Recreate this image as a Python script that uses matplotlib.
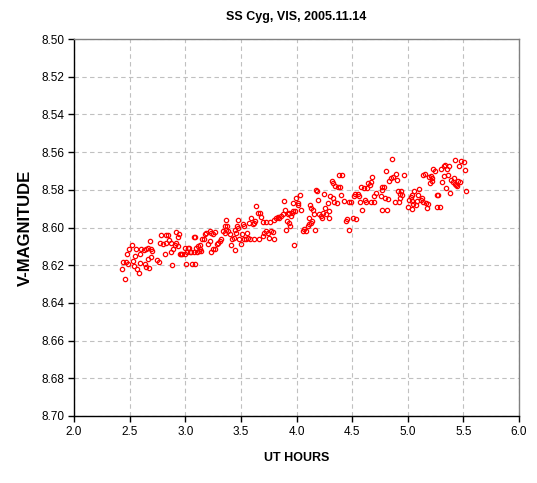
import matplotlib
matplotlib.use("Agg")
import matplotlib.pyplot as plt
import numpy as np

title = "SS Cyg, VIS, 2005.11.14"
xlabel = "UT HOURS"
ylabel = "V-MAGNITUDE"
xticks = [2.0, 2.5, 3.0, 3.5, 4.0, 4.5, 5.0, 5.5, 6.0]
yticks = [8.50, 8.52, 8.54, 8.56, 8.58, 8.60, 8.62, 8.64, 8.66, 8.68, 8.70]

ut_a = [2.457, 2.433, 2.442, 2.463, 2.481, 2.517, 2.496, 2.478, 2.547, 2.532,
        2.556, 2.538, 2.562, 2.583, 2.606, 2.630, 2.651, 2.597, 2.591, 2.636,
        2.651, 2.675, 2.681, 2.666, 2.690, 2.705, 2.696, 2.666, 2.750, 2.762,
        2.780, 2.824, 2.845, 2.771, 2.801, 2.830, 2.854, 2.869, 2.815, 2.875,
        2.890, 2.905, 2.920, 2.944, 2.935, 2.920, 2.935, 2.884, 2.950, 2.974,
        2.995, 3.016, 3.033, 3.054, 3.075, 3.010, 3.063, 3.075, 2.995, 2.965,
        3.025, 3.040, 3.108]
mag_a = [8.6275, 8.6222, 8.6183, 8.6183, 8.6192, 8.6094, 8.6116, 8.6139, 8.6152, 8.6178,
         8.6116, 8.6205, 8.6222, 8.6243, 8.6116, 8.6120, 8.6116, 8.6139, 8.6187, 8.6196,
         8.6210, 8.6213, 8.6072, 8.6108, 8.6116, 8.6125, 8.6155, 8.6166, 8.6173, 8.6183,
         8.6042, 8.6041, 8.6042, 8.6081, 8.6090, 8.6081, 8.6067, 8.6081, 8.6139, 8.6129,
         8.6116, 8.6094, 8.6025, 8.6037, 8.6051, 8.6081, 8.6099, 8.6201, 8.6138, 8.6138,
         8.6138, 8.6129, 8.6108, 8.6129, 8.6129, 8.6196, 8.6196, 8.6051, 8.6108, 8.6139,
         8.6107, 8.6129, 8.6129]

ut_b = [3.090, 3.090, 3.099, 3.114, 3.129, 3.144, 3.120, 3.150, 3.165, 3.174,
        3.189, 3.219, 3.234, 3.249, 3.263, 3.219, 3.204, 3.228, 3.248, 3.269,
        3.287, 3.308, 3.323, 3.293, 3.338, 3.353, 3.368, 3.383, 3.359, 3.362,
        3.398, 3.407, 3.419, 3.437, 3.443, 3.443, 3.458, 3.467, 3.478, 3.473,
        3.502, 3.511, 3.517, 3.532, 3.547, 3.562, 3.553, 3.577, 3.592, 3.607,
        3.622, 3.631, 3.586, 3.616, 3.637, 3.658, 3.676, 3.682, 3.667, 3.697,
        3.712, 3.726, 3.741, 3.771, 3.786, 3.756, 3.795, 3.697, 3.726, 3.765,
        3.801, 3.816, 3.831, 3.846, 3.487, 3.526, 3.135, 3.374]
mag_b = [8.6196, 8.6049, 8.6108, 8.6099, 8.6116, 8.6125, 8.6125, 8.6063, 8.6063, 8.6033,
         8.6028, 8.6019, 8.6028, 8.6037, 8.6025, 8.6072, 8.6090, 8.6129, 8.6116, 8.6116,
         8.6090, 8.6072, 8.6063, 8.6081, 8.6019, 8.6028, 8.6011, 8.6019, 8.5993, 8.5961,
         8.6037, 8.6095, 8.6063, 8.6055, 8.6120, 8.6011, 8.6028, 8.5993, 8.5961, 8.6002,
         8.6090, 8.6037, 8.5984, 8.5993, 8.6063, 8.6055, 8.6028, 8.5975, 8.5949, 8.5984,
         8.5975, 8.5966, 8.6063, 8.6063, 8.5884, 8.5922, 8.5922, 8.5944, 8.6063, 8.6046,
         8.6028, 8.6019, 8.6028, 8.6019, 8.6025, 8.6055, 8.6063, 8.5972, 8.5972, 8.5972,
         8.5961, 8.5949, 8.5944, 8.5949, 8.6063, 8.6063, 8.6093, 8.5993]

ut_c = [3.891, 3.861, 3.876, 3.900, 3.921, 3.936, 3.950, 3.959, 3.971, 3.989,
        3.912, 3.930, 3.941, 3.906, 3.980, 3.995, 4.010, 4.031, 4.040, 4.016,
        3.971, 4.055, 4.070, 4.085, 4.100, 4.115, 4.130, 4.139, 4.109, 4.121,
        4.130, 4.145, 4.160, 4.168, 4.174, 4.186, 4.195, 4.204, 4.219, 4.228,
        4.240, 4.249, 4.258, 4.264, 4.279, 4.288, 4.294, 4.300, 4.324, 4.339,
        4.360, 4.318, 4.330, 4.348, 4.369, 4.378, 4.407, 4.398, 4.389, 4.428,
        4.443, 4.452, 4.473, 4.488, 4.473, 4.509, 4.518, 4.527, 4.539, 4.551,
        4.563, 4.572, 4.587, 4.584, 4.608, 4.617, 4.628, 4.637, 4.646]
mag_c = [8.5857, 8.5940, 8.5931, 8.5905, 8.5931, 8.5922, 8.5940, 8.5922, 8.5913, 8.5913,
         8.5966, 8.5975, 8.5993, 8.6014, 8.6095, 8.5843, 8.5869, 8.5825, 8.5905, 8.5878,
         8.5869, 8.6019, 8.6010, 8.6019, 8.5993, 8.5984, 8.5975, 8.5966, 8.5949, 8.5883,
         8.5896, 8.5905, 8.5931, 8.6014, 8.5802, 8.5804, 8.5855, 8.5931, 8.5940, 8.5949,
         8.5922, 8.5822, 8.5896, 8.5931, 8.5869, 8.5913, 8.5949, 8.5834, 8.5843, 8.5866,
         8.5869, 8.5755, 8.5763, 8.5781, 8.5786, 8.5719, 8.5719, 8.5825, 8.5785, 8.5860,
         8.5966, 8.5957, 8.5866, 8.5866, 8.6014, 8.5949, 8.5834, 8.5822, 8.5957, 8.5822,
         8.5834, 8.5866, 8.5905, 8.5786, 8.5790, 8.5852, 8.5866, 8.5790, 8.5763]

ut_d = [4.855, 4.682, 4.667, 4.661, 4.712, 4.697, 4.772, 4.787, 4.766, 4.757,
        4.796, 4.667, 4.697, 4.766, 4.811, 4.802, 4.832, 4.847, 4.867, 4.891,
        4.906, 4.826, 4.885, 4.915, 4.927, 4.936, 4.951, 4.927, 4.921, 4.966,
        5.011, 5.026, 5.035, 5.041, 5.047, 5.056, 5.071, 5.085, 5.094, 5.100,
        5.115, 5.130, 5.139, 5.160, 5.175, 5.184, 5.005, 5.035, 5.136, 5.154,
        5.190, 5.205, 5.196, 5.214, 5.220, 5.226, 5.244, 5.265, 5.274, 5.303,
        5.324, 5.339, 5.354, 5.369, 5.324, 5.363, 5.265, 5.286, 5.309, 5.345,
        5.384, 5.393, 5.414, 5.405, 5.423, 5.435, 5.453, 5.474, 5.444, 5.429,
        5.465, 5.483, 5.504, 5.513, 5.525]
mag_d = [8.5635, 8.5734, 8.5759, 8.5776, 8.5817, 8.5834, 8.5787, 8.5787, 8.5799, 8.5834,
         8.5843, 8.5866, 8.5866, 8.5905, 8.5905, 8.5702, 8.5755, 8.5737, 8.5734, 8.5716,
         8.5746, 8.5847, 8.5866, 8.5808, 8.5822, 8.5804, 8.5826, 8.5843, 8.5866, 8.5723,
         8.5852, 8.5840, 8.5861, 8.5829, 8.5875, 8.5804, 8.5882, 8.5857, 8.5826, 8.5794,
         8.5852, 8.5843, 8.5864, 8.5870, 8.5896, 8.5875, 8.5893, 8.5901, 8.5723, 8.5716,
         8.5734, 8.5729, 8.5764, 8.5751, 8.5737, 8.5688, 8.5702, 8.5826, 8.5826, 8.5688,
         8.5676, 8.5667, 8.5688, 8.5676, 8.5729, 8.5720, 8.5893, 8.5893, 8.5759, 8.5790,
         8.5817, 8.5746, 8.5737, 8.5759, 8.5769, 8.5776, 8.5755, 8.5759, 8.5781, 8.5640,
         8.5676, 8.5646, 8.5653, 8.5693, 8.5804]

ut = ut_a + ut_b + ut_c + ut_d
mag = mag_a + mag_b + mag_c + mag_d

plt.rcParams['font.family'] = ['Liberation Sans', 'DejaVu Sans']

fig = plt.figure(figsize=(5.37, 4.83), dpi=100)
ax = fig.add_axes([74/537, 1-416/483, (519-74)/537, (416-39)/483])

ax.plot(ut, mag, linestyle='none', marker='o', markersize=3.1,
        markerfacecolor='none', markeredgecolor='#ff0000', markeredgewidth=0.9)

ax.set_xlim(2.0, 6.0)
ax.set_ylim(8.70, 8.50)
ax.set_xticks(xticks)
ax.set_xticklabels([f"{v:.1f}" for v in xticks], fontsize=8.5)
ax.set_yticks(yticks)
ax.set_yticklabels([f"{v:.2f}" for v in yticks], fontsize=8.5)

ax.grid(True, color='#c0c0c0', linestyle=(0, (4, 3)), linewidth=0.8)
ax.set_axisbelow(True)

for s in ['top', 'right']:
    ax.spines[s].set_color('#808080')
    ax.spines[s].set_linewidth(1.0)
for s in ['left', 'bottom']:
    ax.spines[s].set_color('black')
    ax.spines[s].set_linewidth(1.0)

ax.tick_params(direction='out', length=4, width=1, colors='black', pad=3)

ax.set_title(title, fontsize=9, fontweight='bold', pad=14)
ax.set_xlabel(xlabel, fontsize=9, fontweight='bold', labelpad=10)
ax.set_ylabel(ylabel, fontsize=12, fontweight='bold', labelpad=6)

fig.savefig("out.png", dpi=100)
